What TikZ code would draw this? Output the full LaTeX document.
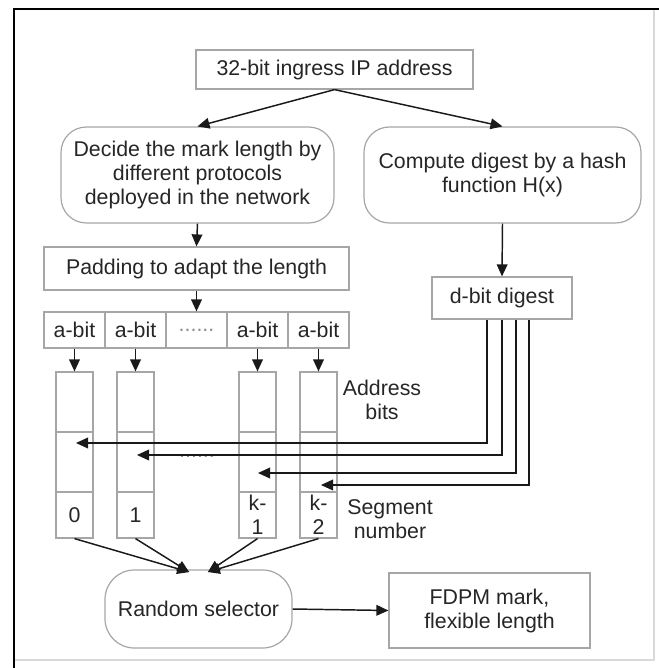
\documentclass[tikz,border=0pt]{standalone}
\usepackage{fontspec}
\setmainfont{Liberation Sans}
\usetikzlibrary{arrows.meta}

\tikzset{
  box/.style={draw=black!35, line width=0.9pt, fill=white, inner sep=0.75pt, align=center, text=black!85},
  rbox/.style={box, rounded corners=19pt},
  cellbox/.style={box, minimum width=45.75pt, minimum height=27pt},
  colbox/.style={draw=black!35, line width=0.9pt, minimum width=27.75pt, inner sep=0pt, align=center, text=black!85},
  lbl/.style={inner sep=0.75pt, align=center, text=black!85},
  arr/.style={-{Triangle[length=9pt,width=8pt]}, black!90, line width=1.1pt},
}

\begin{document}
\begin{tikzpicture}[x=0.75pt,y=0.75pt,yscale=-1,xscale=1,font=\fontsize{16}{18}\selectfont]
  \useasboundingbox (0,0) rectangle (659,668);

  %Shape: Frame
  \draw [black!15, line width=0.8pt] (654,9) -- (654,660) -- (14,660);
  \draw [line width=2.2pt] (13,9) -- (659,9) (14,8) -- (14,668);

  %Shape: Rectangle
  \node [box, minimum width=207.75pt, minimum height=29.25pt] (ip) at (334.5,69.5) {32-bit ingress IP address};
  %Shape: Rounded Rect
  \node [rbox, minimum width=204.75pt, minimum height=72pt] (decide) at (197.5,175) {Decide the mark length by\\different protocols\\deployed in the network};
  %Shape: Rounded Rect
  \node [rbox, minimum width=207.75pt, minimum height=72pt] (hash) at (502.5,175) {Compute digest by a hash\\function H(x)};
  %Shape: Rectangle
  \node [box, minimum width=228.75pt, minimum height=32.25pt] (pad) at (196.5,268.5) {Padding to adapt the length};
  %Shape: Rectangle
  \node [box, minimum width=105pt, minimum height=31.5pt] (digest) at (502,298) {d-bit digest};

  % a-bit row
  \node [cellbox] (a1) at (74.5,330) {a-bit};
  \node [cellbox] (a2) at (135.5,330) {a-bit};
  \node [cellbox, text=black!45] (a3) at (196.5,330) {......};
  \node [cellbox] (a4) at (257.5,330) {a-bit};
  \node [cellbox] (a5) at (318.5,330) {a-bit};

  % segment columns
  \foreach \n/\cx/\lab in {1/74.5/0, 2/135.5/1, 3/257.5/{k-\\1}, 4/318.5/{k-\\2}} {
    \node [colbox, minimum height=45pt] (c\n a) at (\cx,402) {};
    \node [colbox, minimum height=45pt] (c\n b) at (\cx,462) {};
    \node [colbox, minimum height=34.5pt] (c\n s) at (\cx,515) {\lab};
  }

  % Text Node
  \node [lbl] (addr) at (382,400) {Address\\bits};
  % Text Node
  \node [lbl] (segno) at (390,519) {Segment\\number};
  % Text Node
  \node [lbl, text=black!45] (gap) at (197,456) {......};

  %Shape: Rounded Rect
  \node [box, rounded corners=22pt, minimum width=140.25pt, minimum height=58.5pt] (rs) at (198.5,609) {Random selector};
  %Shape: Rectangle
  \node [box, minimum width=150.75pt, minimum height=56.25pt] (fdpm) at (489.5,610.5) {FDPM mark,\\flexible length};

  % arrow ends
  \coordinate (p1) at (76,443);
  \coordinate (p2) at (137,455);
  \coordinate (p3) at (258,473);
  \coordinate (p4) at (321,485);

  % Connectors
  \draw [arr] (ip.south) -- (decide.north);
  \draw [arr] (ip.south) -- (hash.north);
  \draw [arr] (decide.south) -- (pad.north);
  \draw [arr] (pad.south) -- (a3.north);
  \draw [arr] (hash.south) -- (digest.north);
  \draw [arr] (a1.south) -- (c1a.north);
  \draw [arr] (a2.south) -- (c2a.north);
  \draw [arr] (a4.south) -- (c3a.north);
  \draw [arr] (a5.south) -- (c4a.north);

  \draw [arr] ([xshift=-11.25pt]digest.south) |- (p1);
  \draw [arr] (digest.south) |- (p2);
  \draw [arr] ([xshift=10.5pt]digest.south) |- (p3);
  \draw [arr] ([xshift=20.25pt]digest.south) |- (p4);

  \draw [arr] (c1s.south) -- ([xshift=-7pt,yshift=2pt]rs.north);
  \draw [arr] (c2s.south) -- ([xshift=-7pt,yshift=2pt]rs.north);
  \draw [arr] (c3s.south) -- ([xshift=7pt,yshift=2pt]rs.north);
  \draw [arr] (c4s.south) -- ([xshift=7pt,yshift=2pt]rs.north);
  \draw [arr] (rs.east) -- (fdpm.west);
\end{tikzpicture}
\end{document}
